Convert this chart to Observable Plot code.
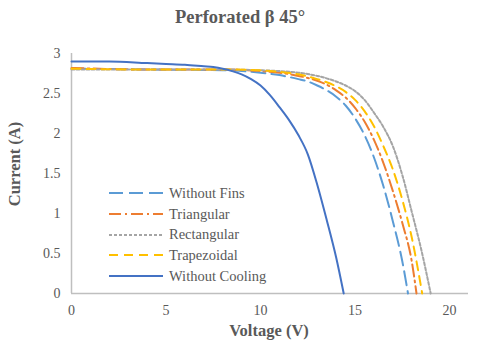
<!DOCTYPE html>
<html>
<head>
<meta charset="utf-8">
<script src="https://cdn.jsdelivr.net/npm/d3@7"></script>
<script src="https://cdn.jsdelivr.net/npm/@observablehq/plot@0.6"></script>
<style>
  body { margin: 0; background: white; }
  #wrap { position: relative; width: 480px; height: 342px; font-family: "Liberation Serif", "Times New Roman", serif; color: #595959; }
  #title { height: 32px; line-height: 35px; text-align: center; font-weight: bold; font-size: 18.5px; }
  .axlabel { position: absolute; font-weight: bold; font-size: 16.5px; white-space: nowrap; }
  #xlabel { left: 269px; top: 331px; transform: translate(-50%, -50%); }
  #ylabel { left: 15px; top: 164px; transform: translate(-50%, -50%) rotate(-90deg); }
  #legend { position: absolute; left: 108px; top: 183px; font-size: 14.5px; }
  #legend .row { display: flex; align-items: center; height: 20.7px; }
  #legend svg { width: 56px; height: 10px; margin-right: 5px; }
</style>
</head>
<body>
<div id="wrap">
  <div id="title">Perforated β 45°</div>
  <div id="chart"></div>
  <div class="axlabel" id="xlabel">Voltage (V)</div>
  <div class="axlabel" id="ylabel">Current (A)</div>
  <div id="legend"></div>
</div>
<script>
// Series data (Voltage V, Current A)
const finsV = [0, 4, 8, 10, 11, 12, 12.5, 13, 13.5, 14, 14.5, 15, 15.5, 16, 16.5, 17, 17.5, 17.8];
const finsI = [2.81, 2.80, 2.79, 2.76, 2.73, 2.68, 2.65, 2.60, 2.54, 2.46, 2.35, 2.19, 1.98, 1.70, 1.34, 0.90, 0.40, 0];

const triV = [0, 4, 8, 10, 11, 12, 13, 13.5, 14, 14.5, 15, 15.5, 16, 16.5, 17, 17.5, 18.0, 18.25];
const triI = [2.82, 2.80, 2.80, 2.78, 2.76, 2.72, 2.66, 2.61, 2.54, 2.45, 2.32, 2.15, 1.92, 1.63, 1.28, 0.88, 0.40, 0];

const rectV = [0, 4, 8, 10, 11, 12, 13, 14, 14.5, 15, 15.5, 16, 16.5, 17, 17.5, 18, 18.5, 19.0];
const rectI = [2.80, 2.80, 2.80, 2.79, 2.78, 2.76, 2.72, 2.65, 2.60, 2.53, 2.42, 2.26, 2.08, 1.84, 1.48, 1.02, 0.55, 0];

const trapV = [0, 4, 8, 10, 11, 12, 13, 13.5, 14, 14.5, 15, 15.5, 16, 16.5, 17, 17.5, 18, 18.55];
const trapI = [2.81, 2.80, 2.80, 2.79, 2.77, 2.74, 2.68, 2.64, 2.59, 2.52, 2.42, 2.28, 2.09, 1.84, 1.55, 1.17, 0.70, 0];

const coolV = [0, 2, 4, 5, 6, 7, 7.5, 8, 8.5, 9, 9.5, 10, 10.5, 11, 11.5, 12, 12.5, 13, 13.5, 14, 14.4];
const coolI = [2.90, 2.90, 2.88, 2.87, 2.86, 2.84, 2.83, 2.81, 2.78, 2.74, 2.68, 2.60, 2.48, 2.33, 2.17, 1.98, 1.74, 1.36, 0.92, 0.45, 0];

const seriesNames = ["Without Fins", "Triangular", "Rectangular", "Trapezoidal", "Without Cooling"];
const seriesColors = ["#5B9BD5", "#ED7D31", "#A5A5A5", "#FFC000", "#4472C4"];
const seriesDash = ["14,6", "12,4,2,4", "3,2", "9,6", null];
const seriesV = [finsV, triV, rectV, trapV, coolV];
const seriesI = [finsI, triI, rectI, trapI, coolI];

const xTicks = [0, 5, 10, 15, 20];
const yTicks = [0, 0.5, 1, 1.5, 2, 2.5, 3];

const lineMarks = seriesNames.map((name, k) => {
  const rows = seriesV[k].map((v, i) => ({v, c: seriesI[k][i]}));
  return Plot.line(rows, {
    x: "v", y: "c", stroke: seriesColors[k], strokeWidth: 2,
    strokeDasharray: seriesDash[k] || undefined, curve: "monotone-x"
  });
});

const chart = Plot.plot({
  width: 480, height: 310,
  marginTop: 21, marginBottom: 49, marginLeft: 71, marginRight: 12,
  style: { fontFamily: "Liberation Serif, Times New Roman, serif", fontSize: "14px", color: "#595959", background: "white" },
  x: { domain: [0, 21], ticks: xTicks, tickFormat: d => String(d), label: null, tickSize: 0, tickPadding: 12 },
  y: { domain: [0, 3], ticks: yTicks, tickFormat: d => String(d), label: null, tickSize: 0, tickPadding: 11 },
  marks: [
    Plot.ruleX([0], { stroke: "#BFBFBF", strokeWidth: 1.5 }),
    Plot.ruleY([0], { stroke: "#BFBFBF", strokeWidth: 1.5 }),
    ...lineMarks
  ]
});
document.getElementById("chart").appendChild(chart);

// Legend
const legend = document.getElementById("legend");
seriesNames.forEach((name, k) => {
  const row = document.createElement("div");
  row.className = "row";
  const dash = seriesDash[k] ? `stroke-dasharray="${seriesDash[k]}"` : "";
  row.innerHTML = `<svg viewBox="0 0 56 10"><line x1="1" y1="5" x2="55" y2="5" stroke="${seriesColors[k]}" stroke-width="2" ${dash}/></svg><span>${name}</span>`;
  legend.appendChild(row);
});
</script>
</body>
</html>
